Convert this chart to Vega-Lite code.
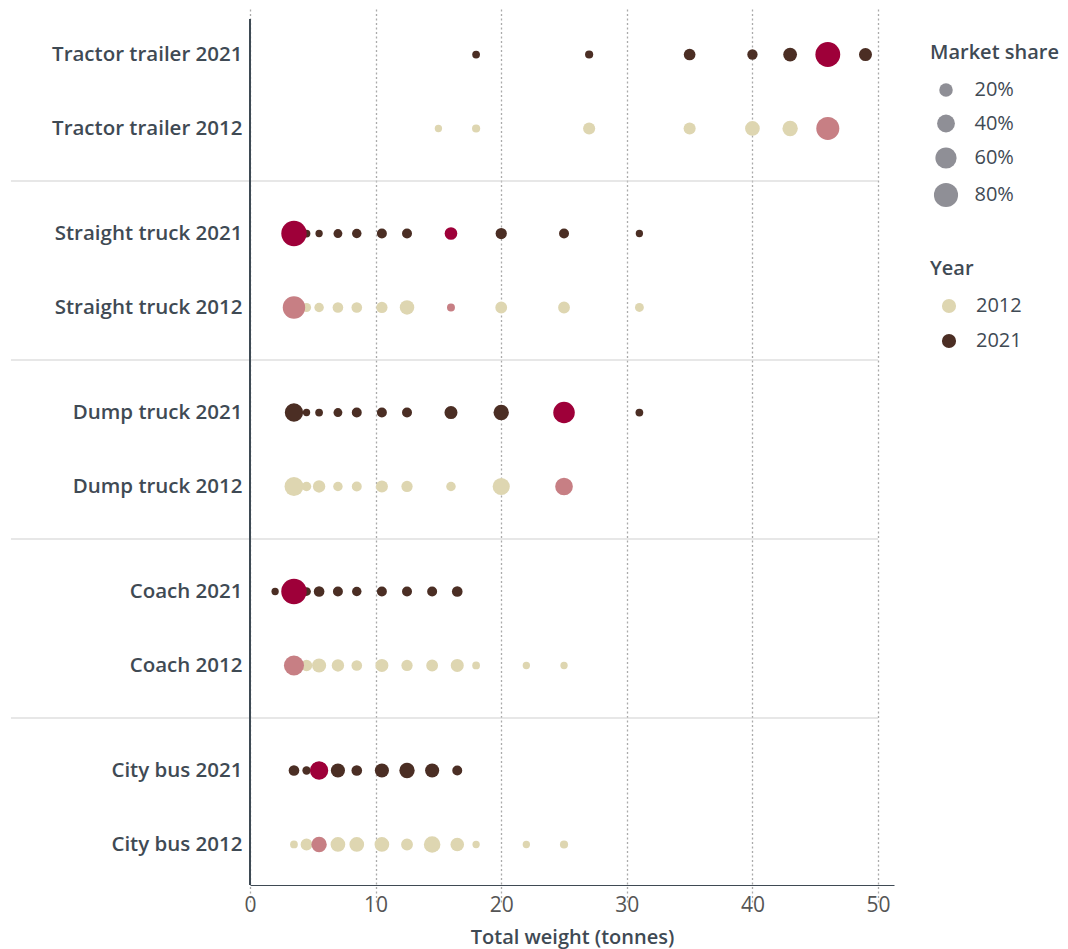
{
  "$schema": "https://vega.github.io/schema/vega-lite/v6.json",
  "width": 644,
  "height": 866,
  "autosize": {"type": "pad"},
  "padding": {"left": 10, "top": 18, "right": 2, "bottom": 2},
  "config": {
    "font": "Open Sans",
    "view": {"stroke": null},
    "legend": {
      "titleFontSize": 20,
      "titleColor": "#3f4a54",
      "titleFontWeight": 600,
      "labelFontSize": 20,
      "labelColor": "#3f4a54",
      "padding": 0
    }
  },
  "data": {
    "values": [
      {"Vehicle": "Tractor trailer", "Year": "2021", "Weight": 18, "Share": 1.5, "Highlighted": false},
      {"Vehicle": "Tractor trailer", "Year": "2021", "Weight": 27, "Share": 2.5, "Highlighted": false},
      {"Vehicle": "Tractor trailer", "Year": "2021", "Weight": 35, "Share": 13, "Highlighted": false},
      {"Vehicle": "Tractor trailer", "Year": "2021", "Weight": 40, "Share": 8.5, "Highlighted": false},
      {"Vehicle": "Tractor trailer", "Year": "2021", "Weight": 43, "Share": 21, "Highlighted": false},
      {"Vehicle": "Tractor trailer", "Year": "2021", "Weight": 49, "Share": 18, "Highlighted": false},
      {"Vehicle": "Tractor trailer", "Year": "2012", "Weight": 15, "Share": 0.5, "Highlighted": false},
      {"Vehicle": "Tractor trailer", "Year": "2012", "Weight": 18, "Share": 2.5, "Highlighted": false},
      {"Vehicle": "Tractor trailer", "Year": "2012", "Weight": 27, "Share": 14.5, "Highlighted": false},
      {"Vehicle": "Tractor trailer", "Year": "2012", "Weight": 35, "Share": 14.5, "Highlighted": false},
      {"Vehicle": "Tractor trailer", "Year": "2012", "Weight": 40, "Share": 25, "Highlighted": false},
      {"Vehicle": "Tractor trailer", "Year": "2012", "Weight": 43, "Share": 28, "Highlighted": false},
      {"Vehicle": "Straight truck", "Year": "2021", "Weight": 4.5, "Share": 1.5, "Highlighted": false},
      {"Vehicle": "Straight truck", "Year": "2021", "Weight": 5.5, "Share": 0.5, "Highlighted": false},
      {"Vehicle": "Straight truck", "Year": "2021", "Weight": 7, "Share": 4.3, "Highlighted": false},
      {"Vehicle": "Straight truck", "Year": "2021", "Weight": 8.5, "Share": 6, "Highlighted": false},
      {"Vehicle": "Straight truck", "Year": "2021", "Weight": 10.5, "Share": 7.5, "Highlighted": false},
      {"Vehicle": "Straight truck", "Year": "2021", "Weight": 12.5, "Share": 7.5, "Highlighted": false},
      {"Vehicle": "Straight truck", "Year": "2021", "Weight": 20, "Share": 11.5, "Highlighted": false},
      {"Vehicle": "Straight truck", "Year": "2021", "Weight": 25, "Share": 7.5, "Highlighted": false},
      {"Vehicle": "Straight truck", "Year": "2021", "Weight": 31, "Share": 0.5, "Highlighted": false},
      {"Vehicle": "Straight truck", "Year": "2012", "Weight": 4.5, "Share": 5, "Highlighted": false},
      {"Vehicle": "Straight truck", "Year": "2012", "Weight": 5.5, "Share": 6, "Highlighted": false},
      {"Vehicle": "Straight truck", "Year": "2012", "Weight": 7, "Share": 9.5, "Highlighted": false},
      {"Vehicle": "Straight truck", "Year": "2012", "Weight": 8.5, "Share": 9.5, "Highlighted": false},
      {"Vehicle": "Straight truck", "Year": "2012", "Weight": 10.5, "Share": 11.5, "Highlighted": false},
      {"Vehicle": "Straight truck", "Year": "2012", "Weight": 12.5, "Share": 24, "Highlighted": false},
      {"Vehicle": "Straight truck", "Year": "2012", "Weight": 20, "Share": 13.5, "Highlighted": false},
      {"Vehicle": "Straight truck", "Year": "2012", "Weight": 25, "Share": 13.5, "Highlighted": false},
      {"Vehicle": "Straight truck", "Year": "2012", "Weight": 31, "Share": 4.3, "Highlighted": false},
      {"Vehicle": "Dump truck", "Year": "2021", "Weight": 3.5, "Share": 43, "Highlighted": false},
      {"Vehicle": "Dump truck", "Year": "2021", "Weight": 4.5, "Share": 0.5, "Highlighted": false},
      {"Vehicle": "Dump truck", "Year": "2021", "Weight": 5.5, "Share": 1.5, "Highlighted": false},
      {"Vehicle": "Dump truck", "Year": "2021", "Weight": 7, "Share": 4.3, "Highlighted": false},
      {"Vehicle": "Dump truck", "Year": "2021", "Weight": 8.5, "Share": 7.5, "Highlighted": false},
      {"Vehicle": "Dump truck", "Year": "2021", "Weight": 10.5, "Share": 7.5, "Highlighted": false},
      {"Vehicle": "Dump truck", "Year": "2021", "Weight": 12.5, "Share": 7.5, "Highlighted": false},
      {"Vehicle": "Dump truck", "Year": "2021", "Weight": 16, "Share": 18, "Highlighted": false},
      {"Vehicle": "Dump truck", "Year": "2021", "Weight": 20, "Share": 28, "Highlighted": false},
      {"Vehicle": "Dump truck", "Year": "2021", "Weight": 31, "Share": 1.5, "Highlighted": false},
      {"Vehicle": "Dump truck", "Year": "2012", "Weight": 3.5, "Share": 46, "Highlighted": false},
      {"Vehicle": "Dump truck", "Year": "2012", "Weight": 4.5, "Share": 6, "Highlighted": false},
      {"Vehicle": "Dump truck", "Year": "2012", "Weight": 5.5, "Share": 15.5, "Highlighted": false},
      {"Vehicle": "Dump truck", "Year": "2012", "Weight": 7, "Share": 6, "Highlighted": false},
      {"Vehicle": "Dump truck", "Year": "2012", "Weight": 8.5, "Share": 7.5, "Highlighted": false},
      {"Vehicle": "Dump truck", "Year": "2012", "Weight": 10.5, "Share": 14.5, "Highlighted": false},
      {"Vehicle": "Dump truck", "Year": "2012", "Weight": 12.5, "Share": 11.5, "Highlighted": false},
      {"Vehicle": "Dump truck", "Year": "2012", "Weight": 16, "Share": 6, "Highlighted": false},
      {"Vehicle": "Dump truck", "Year": "2012", "Weight": 20, "Share": 36.5, "Highlighted": false},
      {"Vehicle": "Coach", "Year": "2021", "Weight": 2, "Share": 0.5, "Highlighted": false},
      {"Vehicle": "Coach", "Year": "2021", "Weight": 4.5, "Share": 4, "Highlighted": false},
      {"Vehicle": "Coach", "Year": "2021", "Weight": 5.5, "Share": 9.5, "Highlighted": false},
      {"Vehicle": "Coach", "Year": "2021", "Weight": 7, "Share": 7.5, "Highlighted": false},
      {"Vehicle": "Coach", "Year": "2021", "Weight": 8.5, "Share": 6, "Highlighted": false},
      {"Vehicle": "Coach", "Year": "2021", "Weight": 10.5, "Share": 7.5, "Highlighted": false},
      {"Vehicle": "Coach", "Year": "2021", "Weight": 12.5, "Share": 7.5, "Highlighted": false},
      {"Vehicle": "Coach", "Year": "2021", "Weight": 14.5, "Share": 7.5, "Highlighted": false},
      {"Vehicle": "Coach", "Year": "2021", "Weight": 16.5, "Share": 9.5, "Highlighted": false},
      {"Vehicle": "Coach", "Year": "2012", "Weight": 4.5, "Share": 12, "Highlighted": false},
      {"Vehicle": "Coach", "Year": "2012", "Weight": 5.5, "Share": 22.5, "Highlighted": false},
      {"Vehicle": "Coach", "Year": "2012", "Weight": 7, "Share": 15.5, "Highlighted": false},
      {"Vehicle": "Coach", "Year": "2012", "Weight": 8.5, "Share": 9.5, "Highlighted": false},
      {"Vehicle": "Coach", "Year": "2012", "Weight": 10.5, "Share": 18, "Highlighted": false},
      {"Vehicle": "Coach", "Year": "2012", "Weight": 12.5, "Share": 11.5, "Highlighted": false},
      {"Vehicle": "Coach", "Year": "2012", "Weight": 14.5, "Share": 13.5, "Highlighted": false},
      {"Vehicle": "Coach", "Year": "2012", "Weight": 16.5, "Share": 18, "Highlighted": false},
      {"Vehicle": "Coach", "Year": "2012", "Weight": 18, "Share": 1.5, "Highlighted": false},
      {"Vehicle": "Coach", "Year": "2012", "Weight": 22, "Share": 0.5, "Highlighted": false},
      {"Vehicle": "Coach", "Year": "2012", "Weight": 25, "Share": 0.5, "Highlighted": false},
      {"Vehicle": "City bus", "Year": "2021", "Weight": 3.5, "Share": 9.5, "Highlighted": false},
      {"Vehicle": "City bus", "Year": "2021", "Weight": 4.5, "Share": 3, "Highlighted": false},
      {"Vehicle": "City bus", "Year": "2021", "Weight": 7, "Share": 22.5, "Highlighted": false},
      {"Vehicle": "City bus", "Year": "2021", "Weight": 8.5, "Share": 9.5, "Highlighted": false},
      {"Vehicle": "City bus", "Year": "2021", "Weight": 10.5, "Share": 22.5, "Highlighted": false},
      {"Vehicle": "City bus", "Year": "2021", "Weight": 12.5, "Share": 28, "Highlighted": false},
      {"Vehicle": "City bus", "Year": "2021", "Weight": 14.5, "Share": 22.5, "Highlighted": false},
      {"Vehicle": "City bus", "Year": "2021", "Weight": 16.5, "Share": 7.5, "Highlighted": false},
      {"Vehicle": "City bus", "Year": "2012", "Weight": 3.5, "Share": 1.5, "Highlighted": false},
      {"Vehicle": "City bus", "Year": "2012", "Weight": 4.5, "Share": 13.5, "Highlighted": false},
      {"Vehicle": "City bus", "Year": "2012", "Weight": 7, "Share": 25, "Highlighted": false},
      {"Vehicle": "City bus", "Year": "2012", "Weight": 8.5, "Share": 25, "Highlighted": false},
      {"Vehicle": "City bus", "Year": "2012", "Weight": 10.5, "Share": 25, "Highlighted": false},
      {"Vehicle": "City bus", "Year": "2012", "Weight": 12.5, "Share": 13.5, "Highlighted": false},
      {"Vehicle": "City bus", "Year": "2012", "Weight": 14.5, "Share": 33.5, "Highlighted": false},
      {"Vehicle": "City bus", "Year": "2012", "Weight": 16.5, "Share": 20, "Highlighted": false},
      {"Vehicle": "City bus", "Year": "2012", "Weight": 18, "Share": 0.5, "Highlighted": false},
      {"Vehicle": "City bus", "Year": "2012", "Weight": 22, "Share": 0.5, "Highlighted": false},
      {"Vehicle": "City bus", "Year": "2012", "Weight": 25, "Share": 2.5, "Highlighted": false},
      {"Vehicle": "Tractor trailer", "Year": "2021", "Weight": 46, "Share": 85, "Highlighted": true},
      {"Vehicle": "Tractor trailer", "Year": "2012", "Weight": 46, "Share": 72, "Highlighted": true},
      {"Vehicle": "Straight truck", "Year": "2021", "Weight": 3.5, "Share": 89, "Highlighted": true},
      {"Vehicle": "Straight truck", "Year": "2021", "Weight": 16, "Share": 16.5, "Highlighted": true},
      {"Vehicle": "Straight truck", "Year": "2012", "Weight": 3.5, "Share": 68, "Highlighted": true},
      {"Vehicle": "Straight truck", "Year": "2012", "Weight": 16, "Share": 2, "Highlighted": true},
      {"Vehicle": "Dump truck", "Year": "2021", "Weight": 25, "Share": 62, "Highlighted": true},
      {"Vehicle": "Dump truck", "Year": "2012", "Weight": 25, "Share": 39.5, "Highlighted": true},
      {"Vehicle": "Coach", "Year": "2021", "Weight": 3.5, "Share": 89.5, "Highlighted": true},
      {"Vehicle": "Coach", "Year": "2012", "Weight": 3.5, "Share": 53, "Highlighted": true},
      {"Vehicle": "City bus", "Year": "2021", "Weight": 5.5, "Share": 43, "Highlighted": true},
      {"Vehicle": "City bus", "Year": "2012", "Weight": 5.5, "Share": 28, "Highlighted": true}
    ]
  },
  "layer": [
    {
      "transform": [
        {"aggregate": [{"op": "count", "as": "n"}], "groupby": ["Vehicle"]},
        {"filter": "datum.Vehicle !== 'Tractor trailer'"}
      ],
      "mark": {"type": "rule", "color": "#cfcfcf", "strokeWidth": 1},
      "encoding": {
        "y": {
          "field": "Vehicle",
          "type": "nominal",
          "bandPosition": 0,
          "scale": {"type": "band", "domain": ["Tractor trailer", "Straight truck", "Dump truck", "Coach", "City bus"], "range": [-17, 878], "paddingInner": 0, "paddingOuter": 0}
        },
        "x": {"datum": -19.03},
        "x2": {"datum": 50}
      }
    },
    {
      "transform": [
        {"calculate": "datum.Year + (datum.Highlighted ? ' highlighted' : '')", "as": "Key"}
      ],
      "mark": {"type": "circle", "opacity": 1},
      "encoding": {
        "x": {
          "field": "Weight",
          "type": "quantitative",
          "scale": {"domain": [0, 51.27], "nice": false, "zero": false},
          "axis": {
            "title": "Total weight (tonnes)",
            "values": [0, 10, 20, 30, 40, 50],
            "ticks": false,
            "labelFlush": false,
            "domainColor": "#3f4a54",
            "labelFontSize": 21,
            "labelColor": "#555555",
            "labelPadding": 9,
            "grid": true,
            "gridDash": [2, 2.5],
            "gridColor": "#aaaaaa",
            "gridWidth": 1.3,
            "titleFontSize": 20,
            "titleFontWeight": 600,
            "titleColor": "#3f4a54",
            "titlePadding": 12
          }
        },
        "y": {
          "field": "Vehicle",
          "type": "nominal",
          "scale": {"type": "band", "domain": ["Tractor trailer", "Straight truck", "Dump truck", "Coach", "City bus"], "range": [-17, 878], "paddingInner": 0, "paddingOuter": 0},
          "axis": {
            "title": null,
            "domain": false,
            "ticks": false,
            "grid": false,
            "labelExpr": "[datum.label + ' 2021', datum.label + ' 2012']",
            "labelFontSize": 20.5,
            "labelFontWeight": 600,
            "labelColor": "#3f4a54",
            "labelLineHeight": 74,
            "labelOffset": -37,
            "labelPadding": 8,
            "labelLimit": 400
          }
        },
        "yOffset": {
          "field": "Year",
          "type": "nominal",
          "scale": {"type": "band", "domain": ["2021", "2012"], "paddingInner": 0, "paddingOuter": 0.21}
        },
        "size": {
          "field": "Share",
          "type": "quantitative",
          "scale": {"domain": [0, 100], "range": [50, 716]},
          "legend": {
            "title": "Market share",
            "orient": "none",
            "legendX": 680,
            "legendY": 24,
            "values": [20, 40, 60, 80],
            "labelExpr": "datum.value + '%'",
            "symbolFillColor": "#8f8f96",
            "symbolStrokeWidth": 0,
            "symbolOpacity": 1,
            "symbolOffset": 3.5,
            "labelOffset": 16,
            "rowPadding": 13.5,
            "titlePadding": 17
          }
        },
        "color": {
          "field": "Key",
          "type": "nominal",
          "scale": {
            "domain": ["2012", "2021", "2012 highlighted", "2021 highlighted"],
            "range": ["#ded6b1", "#4b2e24", "#c77f84", "#9e0039"]
          },
          "legend": {
            "title": "Year",
            "orient": "none",
            "legendX": 680,
            "legendY": 240,
            "values": ["2012", "2021"],
            "symbolType": "circle",
            "symbolSize": 200,
            "symbolOpacity": 1,
            "symbolStrokeWidth": 0,
            "symbolOffset": 9,
            "labelOffset": 17,
            "rowPadding": 15,
            "titlePadding": 17
          }
        }
      }
    },
    {
      "mark": {"type": "rule", "color": "#3f4a54", "strokeWidth": 1},
      "encoding": {"x": {"datum": 0}}
    }
  ]
}
